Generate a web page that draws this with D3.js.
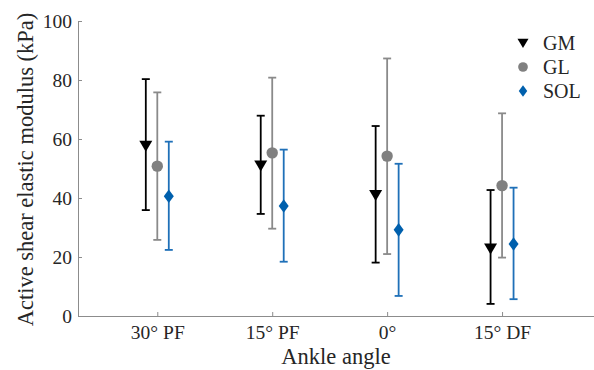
<!DOCTYPE html>
<meta charset="utf-8">
<style>
body { margin: 0; background: #fff; }
text { font-family: "Liberation Serif", "Times New Roman", serif; fill: #262626; }
.axis .domain, .axis .tick line { stroke: #8c8c8c; stroke-width: 1px; }
</style>
<body>
<script src="https://cdn.jsdelivr.net/npm/d3@7"></script>
<script>

var categories = ["30° PF", "15° PF", "0°", "15° DF"];
var yTicks = [0, 20, 40, 60, 80, 100];

var gmMean  = [57.7, 51.0, 41.0, 22.9];
var gmUpper = [80.3, 67.9, 64.4, 42.7];
var gmLower = [35.9, 34.6, 18.1, 4.1];

var glMean  = [50.8, 55.3, 54.2, 44.2];
var glUpper = [75.8, 80.8, 87.3, 68.7];
var glLower = [25.8, 29.6, 21.0, 19.8];

var solMean  = [40.6, 37.3, 29.2, 24.4];
var solUpper = [59.1, 56.4, 51.6, 43.5];
var solLower = [22.4, 18.4, 6.8, 5.7];

var series = [
  {name: "GM",  mean: gmMean,  lo: gmLower,  hi: gmUpper,  offset: -0.1, bar: "#000",    fill: "#000",    shape: "tri"},
  {name: "GL",  mean: glMean,  lo: glLower,  hi: glUpper,  offset: 0,    bar: "#8a8a8a", fill: "#808080", shape: "circle"},
  {name: "SOL", mean: solMean, lo: solLower, hi: solUpper, offset: 0.1,  bar: "#1f70b8", fill: "#0060ad", shape: "diamond"}
];

var W = 594, H = 370;
var plot = {left: 78, right: 594, top: 21, bottom: 316};

var x = d3.scaleLinear().domain([0.31, 4.8]).range([plot.left, plot.right]);
var y = d3.scaleLinear().domain([0, 100]).range([plot.bottom, plot.top]);

var svg = d3.select("body").append("svg")
    .attr("width", W)
    .attr("height", H);

// axes
var xAxis = svg.append("g")
    .attr("class", "axis")
    .attr("transform", "translate(0," + plot.bottom + ")")
    .call(d3.axisBottom(x)
        .tickValues([1, 2, 3, 4])
        .tickFormat(function(d) { return categories[d - 1]; })
        .tickSizeInner(-4)
        .tickSizeOuter(0));
xAxis.selectAll("text")
    .attr("font-size", "19.5px")
    .attr("dy", null)
    .attr("y", 23);

var yAxis = svg.append("g")
    .attr("class", "axis")
    .attr("transform", "translate(" + plot.left + ",0)")
    .call(d3.axisLeft(y)
        .tickValues(yTicks)
        .tickSizeInner(-4)
        .tickSizeOuter(0));
yAxis.selectAll("text")
    .attr("font-size", "19.5px")
    .attr("x", -6);

svg.append("text")
    .attr("x", (plot.left + plot.right) / 2)
    .attr("y", 364)
    .attr("text-anchor", "middle")
    .attr("font-size", "22.5px")
    .text("Ankle angle");

svg.append("text")
    .attr("transform", "translate(33," + ((plot.top + plot.bottom) / 2 + 1) + ") rotate(-90)")
    .attr("text-anchor", "middle")
    .attr("font-size", "22.5px")
    .text("Active shear elastic modulus (kPa)");

function marker(g, shape, fill) {
  if (shape === "tri") {
    g.append("path").attr("d", "M-6.5,-5L6.5,-5L0,6Z").attr("fill", fill);
  } else if (shape === "circle") {
    g.append("circle").attr("r", 5.7).attr("fill", fill);
  } else {
    g.append("path").attr("d", "M0,-6.8L5,0L0,6.8L-5,0Z").attr("fill", fill);
  }
}

// error bars with markers
series.forEach(function(s) {
  var g = svg.append("g");
  categories.forEach(function(c, i) {
    var cx = x(i + 1 + s.offset);
    g.append("line")
        .attr("x1", cx).attr("x2", cx)
        .attr("y1", y(s.lo[i])).attr("y2", y(s.hi[i]))
        .attr("stroke", s.bar).attr("stroke-width", 1.8);
    [s.lo[i], s.hi[i]].forEach(function(v) {
      g.append("line")
          .attr("x1", cx - 4).attr("x2", cx + 4)
          .attr("y1", y(v)).attr("y2", y(v))
          .attr("stroke", s.bar).attr("stroke-width", 1.8);
    });
    marker(g.append("g").attr("transform", "translate(" + cx + "," + y(s.mean[i]) + ")"), s.shape, s.fill);
  });
});

// legend
var legend = svg.append("g");
series.forEach(function(s, i) {
  var ly = 43 + i * 24;
  marker(legend.append("g").attr("transform", "translate(523," + ly + ") scale(0.85)"), s.shape, s.fill);
  legend.append("text")
      .attr("x", 543)
      .attr("y", ly)
      .attr("dy", "0.35em")
      .attr("font-size", "20px")
      .text(s.name);
});

</script>
